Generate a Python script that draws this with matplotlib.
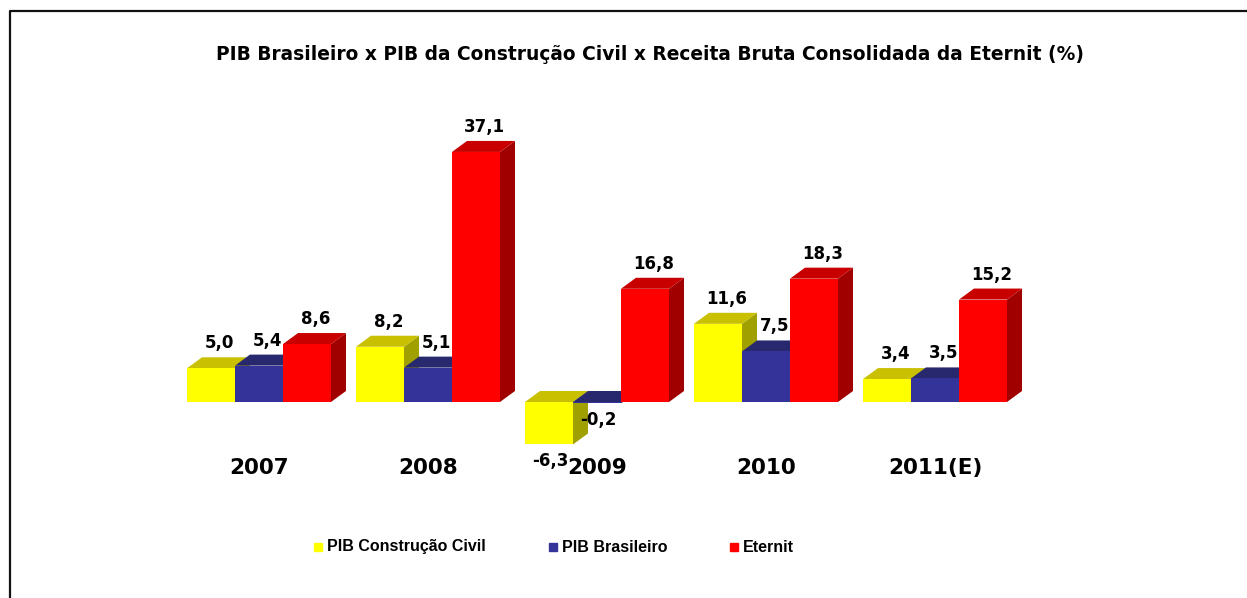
import matplotlib
matplotlib.use("Agg")
import matplotlib.pyplot as plt
from matplotlib.patches import Rectangle
from matplotlib.lines import Line2D

plt.rcParams['font.family'] = ['Liberation Sans', 'DejaVu Sans']

years = ['2007', '2008', '2009', '2010', '2011(E)']
pib_construcao = [5.0, 8.2, -6.3, 11.6, 3.4]
pib_brasileiro = [5.4, 5.1, -0.2, 7.5, 3.5]
eternit = [8.6, 37.1, 16.8, 18.3, 15.2]
series_names = ['PIB Construção Civil', 'PIB Brasileiro', 'Eternit']

# front, top, side colours per series
colors = [('#ffff00', '#c8c000', '#a0a000'),
          ('#333399', '#28286e', '#1e1e5a'),
          ('#ff0000', '#c80000', '#a00000')]

W, H = 1247, 598
fig = plt.figure(figsize=(W / 100, H / 100), dpi=100)
ax = fig.add_axes([0, 0, 1, 1])

# pixel geometry -> data
pitch = 169.0          # px between groups
ppu = 6.74             # px per percent
x0px, y0px = 259.0, 402.0
ax.set_xlim(-x0px / pitch, (W - x0px) / pitch)
ax.set_ylim(-(H - y0px) / ppu, y0px / ppu)
ax.axis('off')

w = 48 / pitch
dx = 15 / pitch
dy = 11 / ppu

wide = ['DejaVu Sans']   # the reference labels are drawn wide

z = 1
for i in range(len(years)):
    for s, vals in enumerate([pib_construcao, pib_brasileiro, eternit]):
        v = vals[i]
        c = i + (s - 1) * w
        xa, xb = c - w / 2, c + w / 2
        top, bot = max(v, 0), min(v, 0)
        front, topc, sidec = colors[s]
        ax.fill([xb, xb + dx, xb + dx, xb], [bot, bot + dy, top + dy, top],
                color=sidec, lw=0, zorder=z)
        ax.fill([xa, xb, xb + dx, xa + dx], [top, top, top + dy, top + dy],
                color=topc, lw=0, zorder=z)
        ax.bar(c, v, width=w, color=front, lw=0, zorder=z + 0.5)
        z += 1
        lab = ('%.1f' % v).replace('.', ',')
        if v >= 0:
            ax.annotate(lab, (c, v), xytext=(6, 18), textcoords='offset points',
                        ha='center', va='center', fontsize=12, fontweight='bold',
                        family=wide, zorder=100)
        else:
            ax.annotate(lab, (c, v), xytext=(1, -12), textcoords='offset points',
                        ha='center', va='center', fontsize=12, fontweight='bold',
                        family=wide, zorder=100)
    ax.text(i, -9.8, years[i], ha='center', va='center', fontsize=15.5,
            fontweight='bold', family=wide)

fig.text(0.521, 1 - 55 / H,
         'PIB Brasileiro x PIB da Construção Civil x Receita Bruta Consolidada da Eternit (%)',
         ha='center', va='center', fontsize=13.4, fontweight='bold', family=wide)

# legend
leg_y = 1 - 547 / H
leg_x = [314, 549, 730]
for s in range(3):
    fig.patches.append(Rectangle((leg_x[s] / W, leg_y - 4 / H), 8 / W, 8 / H,
                                 transform=fig.transFigure, color=colors[s][0]))
    fig.text((leg_x[s] + 13) / W, leg_y, series_names[s], ha='left', va='center',
             fontsize=11.5, fontweight='bold')

# frame (top and left edges)
fx, fy = 9.5 / W, 1 - 10.5 / H
fig.add_artist(Line2D([fx, fx, 1], [0, fy, fy], color='#111111', lw=1.6,
                      transform=fig.transFigure))

fig.savefig('out.png', dpi=100)
